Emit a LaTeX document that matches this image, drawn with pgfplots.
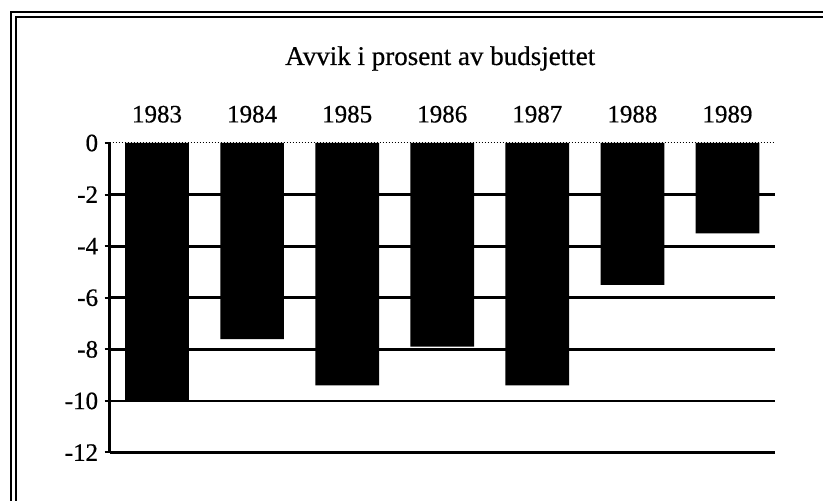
\documentclass[border=0pt]{standalone}
\usepackage{fontspec}
\setmainfont{Liberation Serif}[FakeBold=0.6]
\usepackage{pgfplots}
\pgfplotsset{compat=1.18}

\begin{document}
\fontsize{12}{14}\selectfont
\begin{tikzpicture}
\useasboundingbox (0,0) rectangle (411.5pt,250.5pt);
\clip (0,0) rectangle (411.5pt,250.5pt);
% double frame line, left and top (the frame runs off the page right and below)
\draw[line width=1.3pt] (5.4pt,-5pt) -- (5.4pt,244.5pt) -- (420pt,244.5pt);
\draw[line width=1pt] (7.8pt,-5pt) -- (7.8pt,242.2pt) -- (420pt,242.2pt);
\begin{axis}[
    scale only axis, width=332.75pt, height=154.75pt,
    at={(54.75pt,24.25pt)}, anchor=south west,
    xmin=-0.5, xmax=6.5, ymin=-12, ymax=0,
    axis x line*=top, axis y line*=left,
    x axis line style={-, black, line width=0.5pt, densely dotted},
    y axis line style={-, black, line width=1.3pt},
    xtick={0,...,6},
    xticklabels={1983,1984,1985,1986,1987,1988,1989},
    xtick style={draw=none},
    xticklabel style={anchor=base, yshift=7.8pt},
    ytick={-12,-10,-8,-6,-4,-2},
    extra y ticks={0}, extra y tick style={grid=none},
    ymajorgrids, major grid style={black, line width=1.4pt},
    tick align=outside, major tick length=2.5pt,
    ytick style={black, line width=1pt},
    yticklabel style={anchor=east, xshift=1pt},
    /pgf/number format/assume math mode=true,
    tick label style={font=\fontsize{12.5}{14}\selectfont},
    title={Avvik i prosent av budsjettet},
    title style={anchor=base, at={(0.5,1)}, yshift=33pt, xshift=-1pt,
                 font=\fontsize{13.5}{16}\selectfont},
    ybar, bar width=0.67,
]
\addplot[fill=black, draw=none]
  coordinates {(0,-10.0) (1,-7.6) (2,-9.4) (3,-7.9) (4,-9.4) (5,-5.5) (6,-3.5)};
\end{axis}
\end{tikzpicture}
\end{document}
